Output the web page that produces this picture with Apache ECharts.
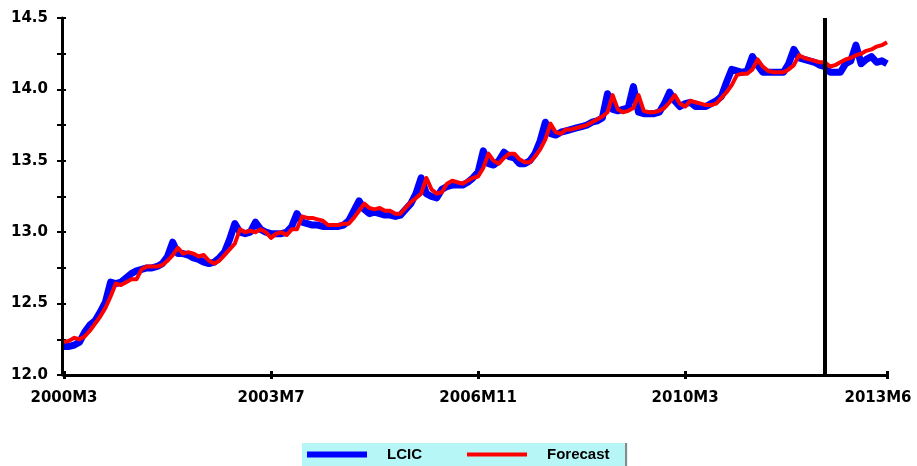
<!DOCTYPE html>
<html>
<head>
<meta charset="utf-8">
<script src="https://cdn.jsdelivr.net/npm/echarts@6/dist/echarts.min.js"></script>
<style>html,body{margin:0;padding:0;background:#fff;overflow:hidden}#c{width:917px;height:466px}</style>
</head>
<body>
<div id="c"></div>
<script>
// Monthly categories 2000M3 .. 2013M6
var categories = [];
(function(){ var y = 2000, m = 3; while (!(y === 2013 && m > 6)) { categories.push(y + 'M' + m); m++; if (m > 12) { m = 1; y++; } } })();

var tickLabels = ['2000M3', '2003M7', '2006M11', '2010M3', '2013M6'];
var forecastStart = '2012M6';

var lcic = [
12.20,12.20,12.21,12.23,12.30,12.35,12.38,12.44,12.51,12.65,
12.64,12.65,12.68,12.71,12.73,12.74,12.75,12.75,12.76,12.78,
12.83,12.93,12.85,12.85,12.84,12.82,12.81,12.79,12.78,12.79,
12.82,12.86,12.95,13.06,13.00,12.99,13.00,13.07,13.02,13.00,
12.99,12.99,12.99,13.00,13.04,13.13,13.07,13.06,13.05,13.05,
13.04,13.04,13.04,13.04,13.05,13.08,13.15,13.22,13.16,13.13,
13.14,13.13,13.12,13.12,13.11,13.12,13.16,13.20,13.27,13.38,
13.27,13.25,13.24,13.30,13.32,13.33,13.33,13.33,13.35,13.38,
13.42,13.57,13.48,13.47,13.50,13.56,13.53,13.52,13.48,13.48,
13.50,13.55,13.64,13.77,13.69,13.68,13.70,13.71,13.72,13.73,
13.74,13.75,13.77,13.78,13.80,13.97,13.86,13.85,13.86,13.87,
14.02,13.84,13.83,13.83,13.83,13.84,13.90,13.98,13.92,13.88,
13.90,13.91,13.88,13.88,13.88,13.90,13.92,13.95,14.05,14.14,
14.13,14.12,14.13,14.23,14.17,14.12,14.12,14.12,14.12,14.12,
14.18,14.28,14.22,14.21,14.20,14.19,14.17,14.16,14.12,14.12,
14.12,14.18,14.20,14.31,14.18,14.21,14.23,14.19,14.20,14.18
];

var forecast = [
12.23,12.24,12.26,12.25,12.27,12.31,12.36,12.41,12.47,12.55,
12.64,12.63,12.65,12.67,12.67,12.74,12.76,12.76,12.76,12.77,
12.80,12.84,12.89,12.85,12.86,12.85,12.83,12.84,12.80,12.78,
12.80,12.84,12.88,12.92,13.02,13.00,13.01,13.00,13.02,13.00,
12.96,12.99,13.00,12.98,13.02,13.02,13.11,13.10,13.10,13.09,
13.08,13.05,13.05,13.05,13.06,13.06,13.10,13.15,13.20,13.17,
13.16,13.17,13.15,13.15,13.13,13.13,13.17,13.21,13.24,13.27,
13.38,13.30,13.27,13.28,13.34,13.36,13.35,13.34,13.36,13.38,
13.39,13.45,13.55,13.50,13.48,13.52,13.55,13.55,13.51,13.49,
13.49,13.53,13.58,13.65,13.76,13.70,13.69,13.72,13.72,13.73,
13.74,13.75,13.77,13.79,13.81,13.84,13.96,13.86,13.84,13.85,
13.87,13.96,13.85,13.84,13.84,13.85,13.87,13.91,13.96,13.90,
13.88,13.92,13.91,13.90,13.89,13.89,13.90,13.94,13.98,14.03,
14.10,14.11,14.11,14.14,14.21,14.16,14.13,14.12,14.12,14.12,
14.14,14.17,14.24,14.22,14.21,14.20,14.19,14.19,14.16,14.17,
14.19,14.21,14.22,14.24,14.25,14.27,14.28,14.30,14.31,14.33
];

var chart = echarts.init(document.getElementById('c'), null, {renderer: 'canvas'});
function showTick(i) { return tickLabels.indexOf(categories[i]) >= 0; }
var axisFont = {fontFamily: 'DejaVu Sans', fontWeight: 'bold', fontSize: 15, color: '#000'};
var lastLabel = tickLabels[tickLabels.length - 1];

chart.setOption({
  animation: false,
  backgroundColor: '#fff',
  grid: {left: 64, right: 30, top: 18, bottom: 91, containLabel: false, outerBoundsMode: 'none'},
  legend: {
    left: 302, top: 443,
    padding: [4, 18, 12, 5],
    backgroundColor: '#b6f6f6',
    itemWidth: 60, itemHeight: 6, itemGap: 45,
    icon: 'rect',
    textStyle: {fontFamily: 'Liberation Sans', fontWeight: 'bold', fontSize: 15, color: '#000', padding: [0, 0, 0, 15]},
    data: [
      {name: 'LCIC', icon: 'rect'},
      {name: 'Forecast', icon: 'path://M0,0M0,1H60V5H0ZM60,6'}
    ]
  },
  graphic: [{
    type: 'rect', left: 625, top: 443, shape: {width: 2, height: 30},
    style: {fill: '#8a8a8a'}, silent: true, z: 10
  }],
  xAxis: [{
    type: 'category', data: categories, boundaryGap: false, position: 'bottom',
    axisLine: {onZero: false, lineStyle: {color: '#000', width: 3}},
    axisTick: {show: true, interval: showTick, length: 4, lineStyle: {color: '#000', width: 3}},
    axisLabel: Object.assign({
      interval: showTick, margin: 16, showMaxLabel: true, hideOverlap: false,
      formatter: function (v) { return v === lastLabel ? '{r|' + v + '}' : v; },
      rich: {r: Object.assign({padding: [0, 18, 0, 0]}, axisFont)}
    }, axisFont),
    splitLine: {show: false}
  }, {
    type: 'category', data: categories, boundaryGap: false, position: 'bottom',
    axisLine: {show: false, onZero: false},
    axisTick: {show: true, inside: true, interval: showTick, length: 4, lineStyle: {color: '#000', width: 3}},
    axisLabel: {show: false}, splitLine: {show: false}
  }],
  yAxis: [{
    type: 'value', min: 12, max: 14.5, interval: 0.5, position: 'left', offset: 2,
    axisLine: {show: true, lineStyle: {color: '#000', width: 3}},
    axisTick: {show: true, length: 5, lineStyle: {color: '#000', width: 2}},
    minorTick: {show: true, splitNumber: 2, length: 5, lineStyle: {color: '#000', width: 2}},
    axisLabel: Object.assign({margin: 14, formatter: function (v) { return v.toFixed(1); }}, axisFont),
    splitLine: {show: false}
  }, {
    type: 'value', min: 12, max: 14.5, interval: 0.5, position: 'left', offset: 2,
    axisLine: {show: false},
    axisTick: {show: true, inside: true, length: 4, lineStyle: {color: '#000', width: 2}},
    minorTick: {show: true, splitNumber: 2, length: 4, lineStyle: {color: '#000', width: 2}},
    axisLabel: {show: false}, splitLine: {show: false}
  }],
  series: [{
    name: 'LCIC', type: 'line', data: lcic, showSymbol: false, symbol: 'none',
    lineStyle: {color: '#0000ff', width: 7, join: 'round'}, itemStyle: {color: '#0000ff'},
    z: 2,
    markLine: {
      silent: true, symbol: 'none', label: {show: false},
      lineStyle: {color: '#000', width: 4, type: 'solid'},
      data: [{xAxis: forecastStart}]
    }
  }, {
    name: 'Forecast', type: 'line', data: forecast, showSymbol: false, symbol: 'none',
    lineStyle: {color: '#ff0000', width: 4, join: 'round'}, itemStyle: {color: '#ff0000'},
    z: 3
  }]
});
</script>
</body>
</html>
